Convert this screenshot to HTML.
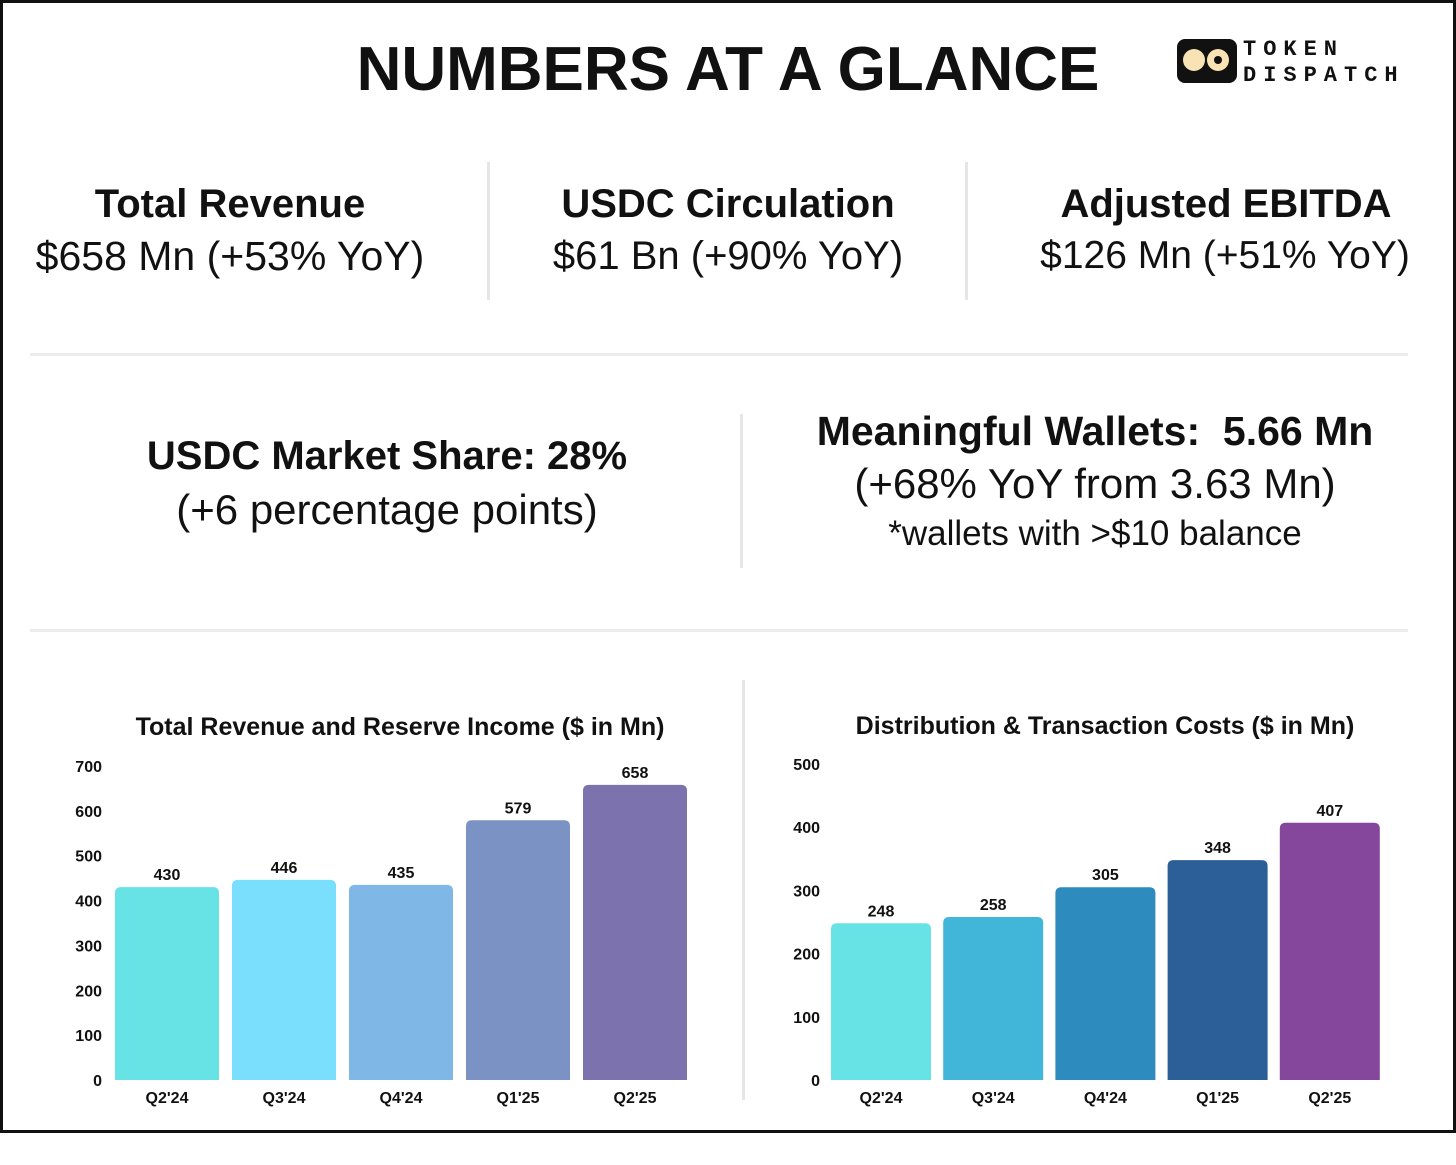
<!DOCTYPE html>
<html><head><meta charset="utf-8"><style>
body{margin:0;width:1456px;height:1165px;background:#fff;font-family:"Liberation Sans",sans-serif;position:relative;overflow:hidden}
.frame{position:absolute;left:0;top:0;width:1450px;height:1127px;border:3px solid #111}
.t{position:absolute;text-align:center;color:#111;white-space:nowrap}
.b{font-weight:bold}
.vl{position:absolute;width:3px;background:#e6e6e6}
.hl{position:absolute;height:3px;background:#ececec;left:30px;width:1378px}
</style></head><body>
<div class="frame"></div>
<div class="t b" style="left:328px;width:800px;top:34px;font-size:62px;letter-spacing:0px">NUMBERS AT A GLANCE</div>
<div style="position:absolute;left:1177px;top:39px;width:60px;height:44px;background:#111;border-radius:8px">
 <div style="position:absolute;left:6px;top:10px;width:22px;height:22px;border-radius:50%;background:#f9e3b4"></div>
 <div style="position:absolute;left:30px;top:10px;width:22px;height:22px;border-radius:50%;background:#f9e3b4"></div>
 <div style="position:absolute;left:37px;top:17px;width:8px;height:8px;border-radius:50%;background:#111"></div>
</div>
<div class="t b" style="left:1243px;top:37px;font-size:22px;letter-spacing:7px;text-align:left;font-family:'Liberation Mono',monospace;line-height:26px">TOKEN<br>DISPATCH</div>

<div class="t b" style="left:30px;width:400px;top:182px;font-size:40px">Total Revenue</div>
<div class="t" style="left:30px;width:400px;top:233px;font-size:41px">$658 Mn (+53% YoY)</div>
<div class="vl" style="left:487px;top:162px;height:138px"></div>
<div class="t b" style="left:528px;width:400px;top:182px;font-size:40px">USDC Circulation</div>
<div class="t" style="left:528px;width:400px;top:234px;font-size:40px">$61 Bn (+90% YoY)</div>
<div class="vl" style="left:965px;top:162px;height:138px"></div>
<div class="t b" style="left:1026px;width:400px;top:182px;font-size:40px">Adjusted EBITDA</div>
<div class="t" style="left:1025px;width:400px;top:234px;font-size:39px">$126 Mn (+51% YoY)</div>
<div class="hl" style="top:353px"></div>

<div class="t b" style="left:137px;width:500px;top:434px;font-size:40px">USDC Market Share: 28%</div>
<div class="t" style="left:137px;width:500px;top:486px;font-size:42px">(+6 percentage points)</div>
<div class="vl" style="left:740px;top:414px;height:154px"></div>
<div class="t b" style="left:795px;width:600px;top:408px;font-size:41px">Meaningful Wallets:&nbsp; 5.66 Mn</div>
<div class="t" style="left:795px;width:600px;top:460px;font-size:42px">(+68% YoY from 3.63 Mn)</div>
<div class="t" style="left:795px;width:600px;top:514px;font-size:35px">*wallets with &gt;$10 balance</div>
<div class="hl" style="top:629px"></div>
<div class="vl" style="left:742px;top:680px;height:420px"></div>

<svg width="1456" height="1165" style="position:absolute;left:0;top:0" id="svg"></svg>
<script>
const cats1=["Q2'24","Q3'24","Q4'24","Q1'25","Q2'25"];
const vals1=[430,446,435,579,658];
const ticks1=[0,100,200,300,400,500,600,700];
const cats2=["Q2'24","Q3'24","Q4'24","Q1'25","Q2'25"];
const vals2=[248,258,305,348,407];
const ticks2=[0,100,200,300,400,500];
const col1=["#67e3e6","#79dffc","#7fb8e6","#7b92c4","#7b72ae"];
const col2=["#67e3e6","#42b6d8","#2d8bbd","#2c5f97","#85479b"];
const svg=document.getElementById('svg');
const NS="http://www.w3.org/2000/svg";
function el(t,a,txt){const e=document.createElementNS(NS,t);for(const k in a)e.setAttribute(k,a[k]);if(txt!==undefined)e.textContent=txt;svg.appendChild(e);return e;}
function chart(cats,vals,ticks,cols,o){
 const y=v=>o.y0-(v-ticks[0])/(ticks[ticks.length-1]-ticks[0])*(o.y0-o.yTop);
 const x=i=>o.x0+i*o.step;
 const ti=el('text',{x:o.tx,y:o.titleY,'text-anchor':'middle','font-size':25,'font-weight':'bold',fill:'#111','font-family':'Liberation Sans'},o.title);
 
 
 ticks.forEach(t=>{const e=el('text',{x:o.axX,y:y(t)+6,'text-anchor':'end','font-size':16,'font-weight':'bold',fill:'#111','font-family':'Liberation Sans'},t);
  
  });
 vals.forEach((v,i)=>{
  const r=el('path',{d:`M${x(i)},${o.y0}V${y(v)+6}Q${x(i)},${y(v)} ${x(i)+6},${y(v)}H${x(i)+o.w-6}Q${x(i)+o.w},${y(v)} ${x(i)+o.w},${y(v)+6}V${o.y0}Z`,fill:cols[i]});
  
  
  const l=el('text',{x:x(i)+o.w/2,y:y(v)-7,'text-anchor':'middle','font-size':16,'font-weight':'bold',fill:'#111','font-family':'Liberation Sans'},v);
  
  
  const c=el('text',{x:x(i)+o.w/2,y:o.y0+23,'text-anchor':'middle','font-size':16,'font-weight':'bold',fill:'#111','font-family':'Liberation Sans'},cats[i]);
  
  
 });
}
chart(cats1,vals1,ticks1,col1,{y0:1080,yTop:766,x0:115,step:117,w:104,axX:102,tx:400,titleY:735,title:'Total Revenue and Reserve Income ($ in Mn)',name:'revenue-chart'});
chart(cats2,vals2,ticks2,col2,{y0:1080,yTop:764,x0:831,step:112.2,w:100,axX:820,tx:1105,titleY:734,title:'Distribution & Transaction Costs ($ in Mn)',name:'costs-chart'});
</script>
</body></html>
